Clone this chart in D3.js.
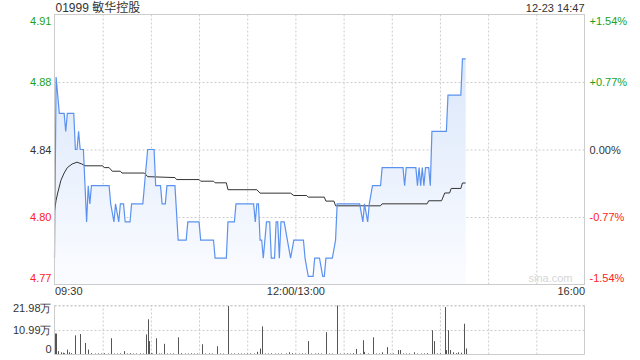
<!DOCTYPE html>
<html>
<head>
<meta charset="utf-8">
<script src="https://cdn.jsdelivr.net/npm/d3@7"></script>
<style>
	body { margin: 0; background: #fff; }
	svg { display: block; font-family: "Liberation Sans", Arial, "Noto Sans CJK SC", sans-serif; }
	.grid line { stroke: #ccc; stroke-dasharray: 2,2; }
	.grid .domain { display: none; }
	.lbl .domain, .lbl line { display: none; }
</style>
</head>
<body>
<div id="chart"></div>
<script>
// header texts
var title = "01999 敏华控股",
	stamp = "12-23 14:47";

var prevClose = 4.84,
	pctLimit = 1.54;

// minutes since 09:30 (lunch break removed), price
var pricePoints = [
	[0,4.78],[1,4.88],[3,4.86],[6,4.86],[7,4.85],[8,4.86],[12,4.86],[13,4.84],[14,4.84],[15,4.85],
	[16,4.84],[18,4.84],[19,4.82],[20,4.80],[21,4.82],[22,4.81],[23,4.82],[34,4.82],[35,4.81],[37,4.80],
	[38,4.81],[40,4.80],[41,4.81],[43,4.81],[44,4.80],[47,4.80],[48,4.81],[55,4.81],[58,4.84],[62,4.84],
	[63,4.82],[66,4.82],[67,4.81],[69,4.81],[70,4.82],[75,4.82],[77,4.79],[82,4.79],[83,4.80],[90,4.80],
	[91,4.79],[99,4.79],[100,4.78],[107,4.78],[108,4.80],[112,4.80],[113,4.81],[124,4.81],[125,4.80],[126,4.81],
	[127,4.81],[128,4.79],[129,4.79],[130,4.78],[132,4.80],[134,4.80],[135,4.78],[137,4.78],[138,4.80],[139,4.80],
	[140,4.78],[141,4.80],[143,4.80],[145,4.79],[147,4.78],[149,4.79],[155,4.79],[156,4.78],[158,4.77],[161,4.77],
	[162,4.78],[165,4.78],[167,4.77],[168,4.77],[169,4.78],[173,4.78],[175,4.79],[176,4.81],[190,4.81],[192,4.80],
	[193,4.81],[195,4.80],[196,4.81],[198,4.82],[203,4.82],[204,4.83],[217,4.83],[218,4.82],[219,4.83],[225,4.83],
	[226,4.82],[227,4.83],[228,4.82],[229,4.83],[230,4.82],[231,4.83],[233,4.83],[234,4.82],[235,4.85],[244,4.85],
	[245,4.87],[253,4.87],[254,4.89],[256,4.89]
];

// average price line
var avgPoints = [
	[0,4.806],[1,4.812],[2,4.816],[4,4.823],[6,4.827],[8,4.830],[11,4.832],[14,4.833],[17,4.832],[19,4.831],
	[30,4.831],[31,4.830],[34,4.830],[36,4.828],[41,4.828],[42,4.827],[56,4.827],[58,4.825],[75,4.8245],[76,4.8234],
	[90,4.8234],[91,4.8225],[99,4.8225],[100,4.8216],[107,4.8216],[108,4.8178],[126,4.8178],[128,4.8159],[147,4.8159],[149,4.8146],
	[157,4.8146],[158,4.8137],[168,4.8137],[169,4.8115],[174,4.8115],[175,4.8089],[203,4.8089],[204,4.810],[232,4.810],[233,4.8117],
	[241,4.8117],[243,4.816],[246,4.816],[247,4.8185],[253,4.8185],[254,4.8215],[256,4.8215]
];

// volume in 万 shares
var volumes = [
	[0,9.4],[1,9.4],[2,1.5],[4,1.0],[5,0.8],[6,0.6],[8,2.2],[9,1.0],[10,0.6],[13,8.6],[16,9.2],[19,5.2],[21,2.2],
	[23,0.6],[25,0.4],[27,0.5],[29,0.4],[31,0.6],[33,0.3],[35,7.3],[37,0.4],[39,0.3],[41,0.5],[43,1.5],[45,0.4],
	[47,0.6],[49,0.3],[51,0.4],[53,0.5],[55,0.3],[57,9.0],[58,15.8],[59,6.0],[60,0.6],[61,0.4],[63,7.3],[65,0.4],
	[66,0.3],[68,4.8],[70,0.4],[72,0.3],[74,0.5],[77,7.7],[79,0.6],[81,0.4],[83,0.3],[85,0.5],[87,0.4],[89,0.3],
	[92,4.6],[94,0.4],[96,0.5],[98,0.3],[101,3.7],[103,0.4],[105,0.3],[108,21.7],[110,0.4],[112,0.3],[114,0.5],
	[116,0.4],[118,0.3],[120,0.4],[122,0.5],[124,0.3],[126,1.2],[128,2.7],[129,12.6],[131,0.4],[133,0.3],[135,0.5],
	[137,0.4],[139,0.3],[141,0.4],[144,0.5],[146,1.0],[148,0.6],[150,0.4],[152,0.3],[154,0.5],[156,0.4],[158,6.0],
	[160,0.4],[162,0.3],[164,0.5],[166,0.4],[169,10.0],[171,0.4],[173,0.3],[176,21.98],[178,0.4],[180,0.3],[182,0.5],
	[184,0.4],[186,0.6],[188,2.5],[190,0.4],[192,6.4],[193,1.2],[195,0.4],[198,7.7],[200,0.4],[202,0.3],[204,1.0],
	[207,3.3],[209,0.4],[211,0.5],[214,2.0],[215,2.0],[217,0.4],[219,0.3],[221,0.5],[224,1.0],[226,0.4],[228,0.3],
	[230,0.5],[232,0.6],[235,10.9],[236,6.0],[238,0.4],[240,0.5],[243,21.3],[244,2.0],[245,10.9],[246,2.0],[248,1.0],
	[250,0.6],[251,1.0],[253,0.8],[255,13.8],[256,2.7]
];

var pctTicks = [-1.54, -0.77, 0, 0.77, 1.54];
var volTicks = [0, 10.99, 21.98];
var timeTicks = [0, 150, 330],
	timeLabels = ["09:30", "12:00/13:00", "16:00"];

function makeChart() {
	var W = 640, H = 360,
		left = 54.5, right = 584.5,
		top = 14.5, bottom = 284.5,
		vTop = 305.5, vBottom = 354.5;

	var green = "#1aa31a", red = "#f22", dark = "#333";

	var svg = d3.select("#chart").append("svg")
		.attr("width", W).attr("height", H);

	var x = d3.scaleLinear().domain([0, 330]).range([left, right]);
	var y = d3.scaleLinear()
		.domain([prevClose * (1 - pctLimit / 100), prevClose * (1 + pctLimit / 100)])
		.range([bottom, top]);
	var yv = d3.scaleLinear().domain([0, 21.98]).range([vBottom, vTop]);

	var priceTicks = pctTicks.map(p => prevClose * (1 + p / 100));
	var tickColor = p => p > 0 ? green : (p < 0 ? red : dark);

	// gradient for area
	var grad = svg.append("defs").append("linearGradient")
		.attr("id", "fillGrad").attr("gradientUnits", "userSpaceOnUse")
		.attr("x1", 0).attr("x2", 0).attr("y1", top).attr("y2", bottom);
	grad.append("stop").attr("offset", "0").attr("stop-color", "#d4e3fa");
	grad.append("stop").attr("offset", "1").attr("stop-color", "#fbfcff");

	// grid
	svg.append("g").attr("class", "grid")
		.attr("transform", "translate(0," + bottom + ")")
		.call(d3.axisBottom(x).tickValues(d3.range(30, 330, 30)).tickSize(-(bottom - top)).tickFormat(""));
	svg.append("g").attr("class", "grid")
		.attr("transform", "translate(" + left + ",0)")
		.call(d3.axisLeft(y).tickValues(priceTicks.slice(1, 4)).tickSize(-(right - left)).tickFormat(""))
		.selectAll("line")
		.attr("stroke", (d, i) => i === 1 ? "#aaa" : "#ccc")
		.attr("stroke-dasharray", (d, i) => i === 1 ? "4,2" : "2,2");

	svg.append("g").attr("class", "grid")
		.attr("transform", "translate(0," + vBottom + ")")
		.call(d3.axisBottom(x).tickValues(d3.range(30, 330, 30)).tickSize(-(vBottom - vTop)).tickFormat(""));
	svg.append("g").attr("class", "grid")
		.attr("transform", "translate(" + left + ",0)")
		.call(d3.axisLeft(yv).tickValues(volTicks.slice(1)).tickSize(-(right - left)).tickFormat(""));

	// watermark
	svg.append("text").attr("x", right - 12).attr("y", bottom - 3)
		.attr("text-anchor", "end").attr("fill", "#d6d6d6")
		.attr("font-size", 11).text("sina.com");

	// price area and line
	svg.append("path").datum(pricePoints)
		.attr("fill", "url(#fillGrad)")
		.attr("d", d3.area().x(d => x(d[0])).y0(bottom).y1(d => y(d[1])));
	svg.append("path").datum(avgPoints)
		.attr("fill", "none").attr("stroke", "#333").attr("stroke-width", 1)
		.attr("d", d3.line().x(d => x(d[0])).y(d => y(d[1])));
	svg.append("path").datum(pricePoints)
		.attr("fill", "none").attr("stroke", "#5b92f0").attr("stroke-width", 1.2)
		.attr("d", d3.line().x(d => x(d[0])).y(d => y(d[1])));

	// volume bars
	svg.append("g").selectAll("line.vol")
		.data(volumes).enter()
		.append("line").attr("class", "vol")
		.attr("x1", d => Math.round(x(d[0])) + 0.5).attr("x2", d => Math.round(x(d[0])) + 0.5)
		.attr("y1", vBottom).attr("y2", d => Math.min(yv(d[1]), vBottom - 1))
		.attr("stroke", "#555").attr("stroke-width", 1);

	// frames
	svg.append("rect").attr("x", left).attr("y", top)
		.attr("width", right - left).attr("height", bottom - top)
		.attr("fill", "none").attr("stroke", "#ccc");
	svg.append("path")
		.attr("d", "M" + left + "," + vTop + "V" + vBottom + "H" + right + "V" + vTop)
		.attr("fill", "none").attr("stroke", "#ccc");
	svg.append("line").attr("x1", left).attr("x2", right).attr("y1", vTop).attr("y2", vTop)
		.attr("stroke", "#ccc").attr("stroke-dasharray", "2,2");

	// price labels left
	var la = svg.append("g").attr("class", "lbl")
		.attr("transform", "translate(" + (left - 3) + ",0)")
		.call(d3.axisLeft(y).tickValues(priceTicks).tickSize(0).tickPadding(0).tickFormat(d3.format(".2f")));
	la.selectAll("text")
		.attr("font-size", 11).attr("font-family", null)
		.attr("fill", (d, i) => tickColor(pctTicks[i]))
		.attr("dy", (d, i) => i === 0 ? "-0.3em" : (i === 4 ? "0.95em" : "0.32em"));

	// percent labels right
	var ra = svg.append("g").attr("class", "lbl")
		.attr("transform", "translate(" + (right + 5) + ",0)")
		.call(d3.axisRight(y).tickValues(priceTicks).tickSize(0).tickPadding(0)
			.tickFormat((d, i) => (pctTicks[i] > 0 ? "+" : "") + pctTicks[i].toFixed(2) + "%"));
	ra.selectAll("text")
		.attr("font-size", 11).attr("font-family", null)
		.attr("fill", (d, i) => tickColor(pctTicks[i]))
		.attr("dy", (d, i) => i === 0 ? "-0.3em" : (i === 4 ? "0.95em" : "0.32em"));

	// volume labels
	var va = svg.append("g").attr("class", "lbl")
		.attr("transform", "translate(" + (left - 3) + ",0)")
		.call(d3.axisLeft(yv).tickValues(volTicks).tickSize(0).tickPadding(0)
			.tickFormat(d => d === 0 ? "0" : d.toFixed(2) + "万"));
	va.selectAll("text")
		.attr("font-size", 11).attr("font-family", null).attr("fill", dark)
		.attr("dy", (d, i) => i === 0 ? "-0.2em" : (i === 2 ? "0.55em" : "0.32em"));

	// time labels
	var ta = svg.append("g").attr("class", "lbl")
		.attr("transform", "translate(0," + bottom + ")")
		.call(d3.axisBottom(x).tickValues(timeTicks).tickSize(0).tickPadding(3)
			.tickFormat((d, i) => timeLabels[i]));
	ta.selectAll("text")
		.attr("font-size", 11).attr("font-family", null).attr("fill", dark)
		.attr("text-anchor", (d, i) => i === 0 ? "start" : (i === 2 ? "end" : "middle"));

	// header
	svg.append("text").attr("x", left + 1).attr("y", 12)
		.attr("font-size", 12).attr("fill", dark).text(title);
	svg.append("text").attr("x", right).attr("y", 12)
		.attr("text-anchor", "end").attr("font-size", 11).attr("fill", dark).text(stamp);
}

window.addEventListener('DOMContentLoaded', makeChart)
</script>
</body>
</html>
